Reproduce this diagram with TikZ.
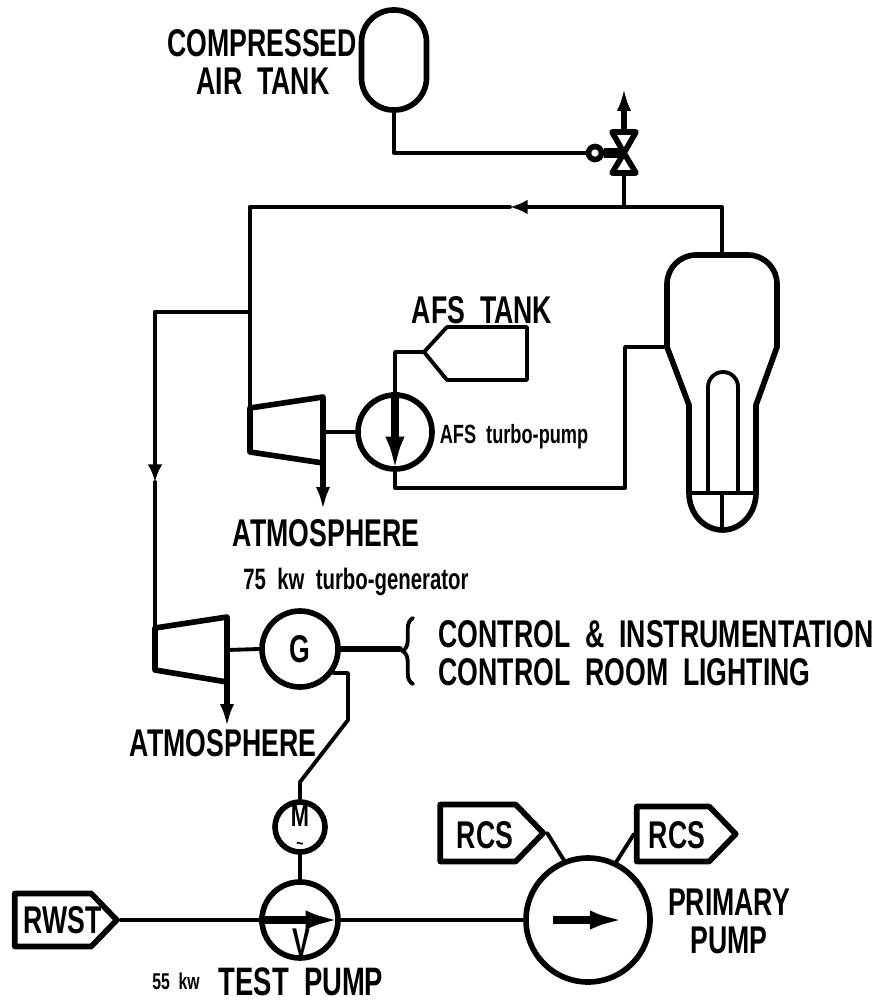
\documentclass[tikz,border=0pt]{standalone}
\usepackage{fontspec}
\setmainfont[FakeStretch=0.69,WordSpace=2]{Liberation Sans}
\usetikzlibrary{arrows.meta,shapes.symbols,decorations.pathreplacing}

\tikzset{
  pipe/.style={line width=1.1pt, line cap=round, line join=round},
  heavy/.style={line width=1.6pt, line cap=round, line join=round},
  flowtip/.style={pipe, -{Latex[length=5pt,width=4.2pt]}},
  ventarrow/.style={line width=1.6pt, -{Latex[length=6.5pt,width=4pt]}},
  pumparrow/.style={line width=2.3pt, -{Latex[length=10pt,width=5.4pt]}},
  machine/.style={draw, circle, heavy, inner sep=0pt},
  tag/.style={draw, heavy, signal, signal to=east, signal pointer angle=92, inner sep=0pt},
  lab/.style={font=\bfseries\fontsize{11}{11}\selectfont, inner sep=0pt},
  small/.style={font=\bfseries\fontsize{7.5}{7.5}\selectfont, inner sep=0pt},
}

\begin{document}
\begin{tikzpicture}[x=0.1mm, y=-0.1mm, >=stealth]
  \useasboundingbox (0,0) rectangle (891,1004);

  % Compressed air tank
  \node[draw, heavy, minimum width=6.5mm, minimum height=10mm, rounded corners=3.2mm, inner sep=0pt] (airtank) at (394,60) {};
  \node[lab] (airtanklab) at (262,43) {COMPRESSED};
  \node[lab] (airtanklabb) at (263,81) {AIR TANK};

  % Valve with its air drive
  \coordinate (valve) at (624,153);
  \draw[heavy] (valve) -- (612,132) -- (636,132) -- cycle;
  \draw[heavy] (valve) -- (612,173) -- (636,173) -- cycle;
  \node[draw, circle, heavy, minimum size=1.3mm, inner sep=0pt] (drive) at (595,153) {};
  \draw[line width=2.8pt] (drive) -- (valve);
  \draw[pipe] (airtank.south) |- (drive.west);
  \coordinate (ventend) at (624,88);
  \coordinate (valvetop) at (624,132);
  \coordinate (valvelow) at (624,173);
  \draw[ventarrow] (valvetop) -- (ventend);

  % Steam generator
  \draw[heavy, rounded corners=2.9mm] (667,347) -- (667,255) -- (777,255) -- (777,347);
  \draw[heavy] (667,347) -- (689,405) -- (689,493) arc[start angle=180, end angle=0, x radius=33.5, y radius=37] -- (756,405) -- (777,347);
  \draw[pipe] (689,493) -- (756,493);
  \draw[pipe] (708,493) -- (708,387) arc[start angle=180, end angle=0, x radius=15, y radius=-15] -- (738,493);
  \coordinate (sgtop) at (722,255);
  \coordinate (sgside) at (667,347);
  \coordinate (sglow) at (722,493);
  \coordinate (sgfoot) at (722,530);
  \draw[pipe] (sglow) -- (sgfoot);

  % Steam header
  \coordinate (headerr) at (722,207);
  \coordinate (headerv) at (624,207);
  \coordinate (headerm) at (510,207);
  \coordinate (headerl) at (250,207);
  \draw[pipe] (sgtop) -- (headerr) -- (headerv);
  \draw[pipe] (headerv) -- (valvelow);
  \draw[flowtip] (headerv) -- (headerm);
  \draw[pipe] (headerm) -- (headerl);

  % AFS turbine and pump
  \draw[heavy] (250,408) -- (323,397) -- (323,463) -- (250,452) -- cycle;
  \coordinate (afsturbin) at (250,408);
  \coordinate (afsturbout) at (323,463);
  \coordinate (afsshaft) at (323,432);
  \coordinate (afsvent) at (323,510);
  \draw[pipe] (headerl) -- (afsturbin);
  \draw[ventarrow] (afsturbout) -- (afsvent);
  \node[machine, minimum size=7.4mm] (afspump) at (395,432) {};
  \draw[pipe] (afsshaft) -- (afspump.west);
  \draw[pumparrow] (afspump.north) -- (afspump.south);
  \node[small] (afspumplab) at (514,437) {AFS turbo-pump};
  \node[lab] (atmoa) at (326,533) {ATMOSPHERE};

  % AFS tank
  \coordinate (afsneck) at (424,352);
  \draw[pipe] (afsneck) -- (447,327) -- (527,327) -- (527,380) -- (447,380) -- cycle;
  \draw[pipe] (afspump.north) |- (afsneck);
  \node[lab] (afstanklab) at (482,310) {AFS TANK};
  \coordinate (afsreturn) at (625,488);
  \coordinate (sgreturn) at (625,347);
  \draw[pipe] (afspump.south) |- (afsreturn) -- (sgreturn) -- (sgside);

  % Branch to the generator turbine
  \coordinate (brancha) at (250,312);
  \coordinate (branchb) at (155,312);
  \coordinate (branchm) at (155,482);
  \coordinate (genturbin) at (155,628);
  \draw[pipe] (brancha) -- (branchb);
  \draw[flowtip] (branchb) -- (branchm);
  \draw[pipe] (branchm) -- (genturbin);

  % Turbo-generator
  \node[small, font=\bfseries\fontsize{8.4}{8.4}\selectfont] (genlab) at (356,582) {75 kw turbo-generator};
  \draw[heavy] (155,628) -- (227,617) -- (227,682) -- (155,670) -- cycle;
  \coordinate (genshaft) at (227,650);
  \coordinate (genturbout) at (227,682);
  \coordinate (genvent) at (227,727);
  \draw[ventarrow] (genturbout) -- (genvent);
  \node[machine, minimum size=7.6mm, lab] (gen) at (300,649) {G};
  \draw[pipe] (genshaft) -- (gen.west);
  \node[lab] (atmob) at (223,743) {ATMOSPHERE};

  % Loads
  \coordinate (loadend) at (400,649);
  \draw[heavy] (gen.east) -- (loadend);
  \coordinate (bracelow) at (413,684);
  \coordinate (bracetop) at (413,618);
  \draw[pipe, decorate, decoration={brace, amplitude=3pt}] (bracelow) -- (bracetop);
  \node[lab, anchor=west] (loada) at (438,634) {CONTROL \& INSTRUMENTATION};
  \node[lab, anchor=west] (loadb) at (438,672) {CONTROL ROOM LIGHTING};

  % Test pump and motor
  \node[machine, minimum size=5mm] (motor) at (300,827) {};
  \node[lab, font=\bfseries\fontsize{9}{9}\selectfont] (motorlab) at (300,816) {M};
  \node[small, font=\bfseries\fontsize{5}{5}\selectfont] (motortilde) at (300,846) {\textasciitilde};
  \node[machine, minimum size=7.6mm] (testpump) at (300,920) {};
  \node[lab] (testpumpv) at (301,942) {V};
  \coordinate (wirea) at (333,673);
  \coordinate (wireb) at (348,673);
  \coordinate (wirec) at (348,720);
  \coordinate (wired) at (300,782);
  \draw[pipe] (wirea) -- (wireb) -- (wirec) -- (wired) -- (motor.north);
  \draw[pipe] (motor.south) -- (testpump.north);
  \draw[pumparrow] (testpump.west) -- (testpump.east);
  \node[small, font=\bfseries\fontsize{6.5}{6.5}\selectfont] (testkw) at (176,981) {55 kw};
  \node[lab, font=\bfseries\fontsize{11.3}{11.3}\selectfont] (testlab) at (301,982) {TEST PUMP};

  % Primary pump and the lines to it
  \node[machine, minimum size=12.4mm] (primary) at (588,920) {};
  \draw[pumparrow] (553,920) -- (625,920);
  \node[lab] (primarya) at (729,902) {PRIMARY};
  \node[lab] (primaryb) at (729,940) {PUMP};
  \node[tag, minimum width=10.2mm, minimum height=5.3mm] (rwst) at (53,920) {};
  \node[lab] (rwstlab) at (63,920) {RWST};
  \draw[pipe] (rwst.east) -- (testpump.west);
  \draw[pipe] (testpump.east) -- (primary.west);
  \node[tag, minimum width=10.3mm, minimum height=5.7mm] (rcsa) at (478,833) {};
  \node[lab] (rcsalab) at (485,835) {RCS};
  \node[tag, minimum width=9.9mm, minimum height=5.5mm] (rcsb) at (673,834) {};
  \node[lab] (rcsblab) at (677,835) {RCS};
  \draw[pipe] (rcsa.east) -- (primary.112);
  \draw[pipe] (rcsb.west) -- (primary.64);
\end{tikzpicture}
\end{document}
